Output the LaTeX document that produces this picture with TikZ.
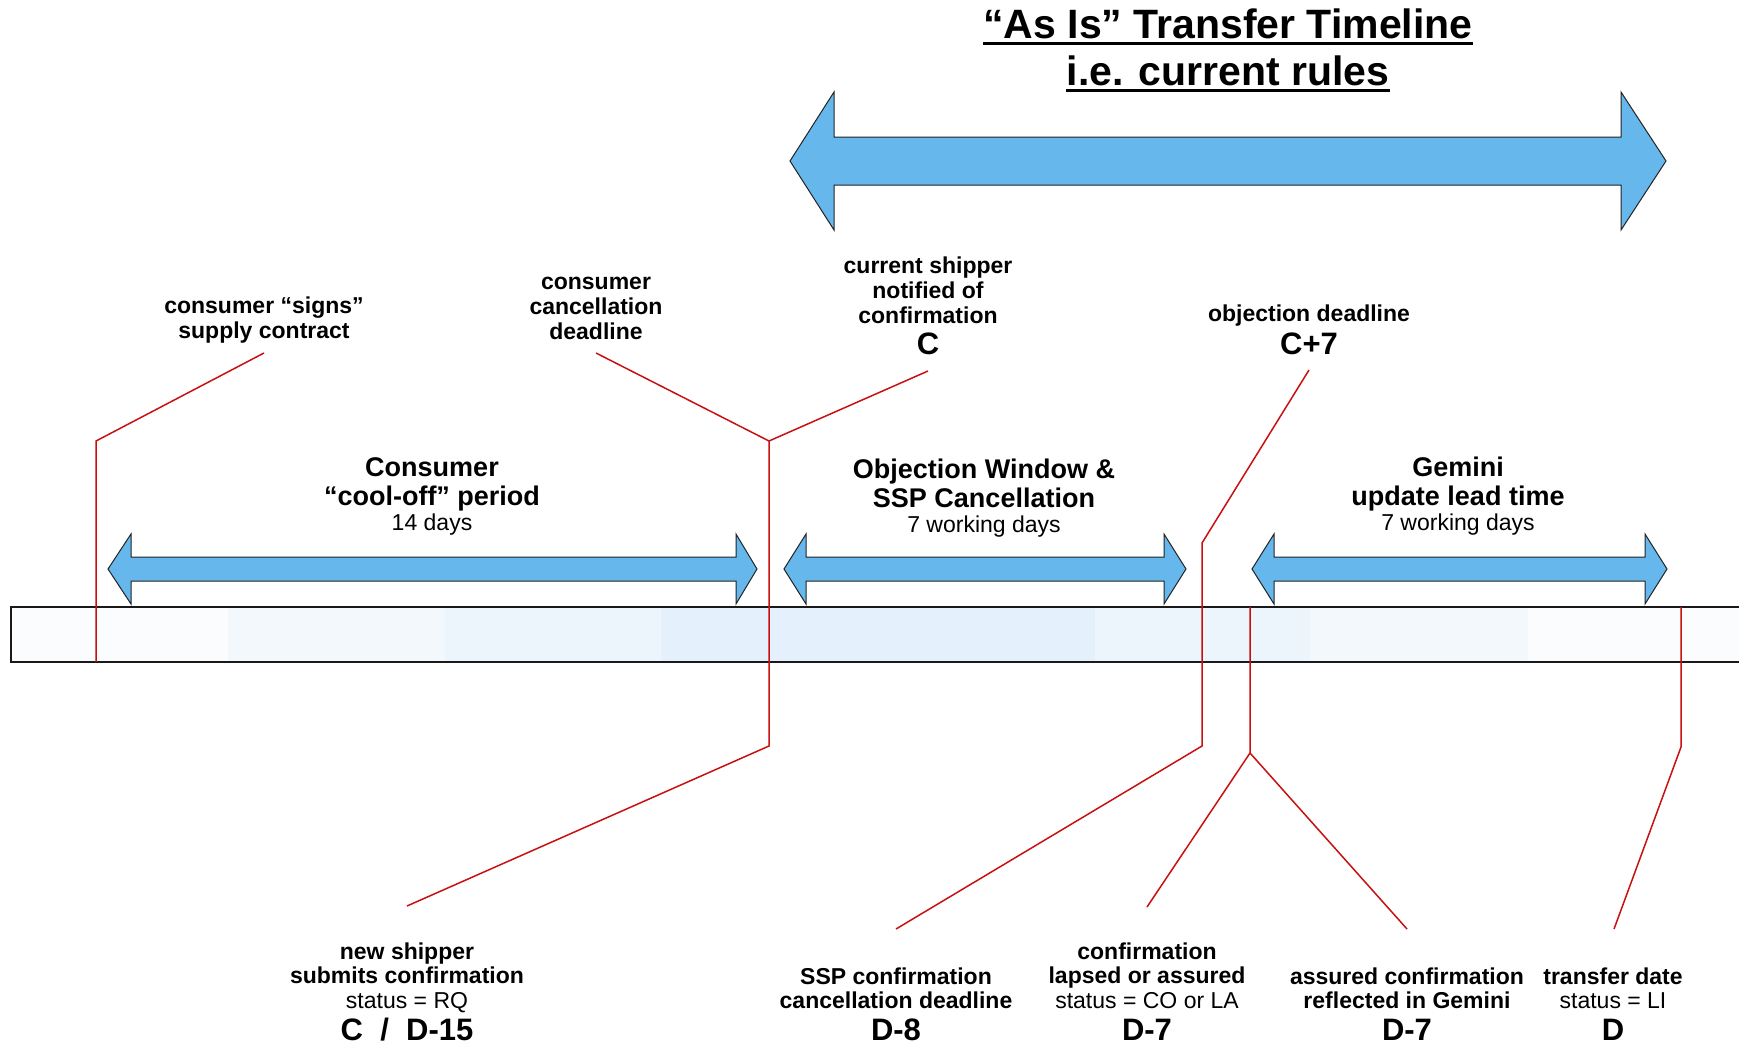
\documentclass[tikz,border=0pt]{standalone}
\usepackage{fontspec}
\setmainfont{Liberation Sans}
\definecolor{arrblue}{RGB}{102,183,236}
\definecolor{arredge}{RGB}{35,35,35}
\definecolor{redl}{RGB}{200,16,16}
\definecolor{bandA}{HTML}{FAFCFE}
\definecolor{bandB}{HTML}{F3F8FD}
\definecolor{bandC}{HTML}{ECF5FC}
\definecolor{bandD}{HTML}{E4F0FB}
\definecolor{barline}{RGB}{25,25,25}
\newcommand{\ml}[1]{\begin{tabular}[t]{@{}c@{}}#1\end{tabular}}
\begin{document}
\begin{tikzpicture}[x=0.5pt,y=-0.5pt,
  toplbl/.style={anchor=base,inner sep=0pt,font=\fontsize{11.5}{12.5}\selectfont\bfseries},
  botlbl/.style={anchor=base,inner sep=0pt,font=\fontsize{11.5}{12.3}\selectfont\bfseries},
  headlbl/.style={anchor=base,inner sep=0pt,font=\fontsize{13.5}{14.5}\selectfont\bfseries},
  sublbl/.style={anchor=base,inner sep=0pt,font=\fontsize{11.5}{12}\selectfont},
  codelbl/.style={anchor=base,inner sep=0pt,font=\fontsize{15.5}{16}\selectfont\bfseries},
  titlelbl/.style={anchor=base,inner sep=0pt,font=\fontsize{20.5}{22}\selectfont\bfseries},
  dblarrow/.style={fill=arrblue,draw=arredge,line width=0.5pt,line join=miter},
  conn/.style={draw=redl,line width=0.75pt}]
\useasboundingbox (0,0) rectangle (1739,1044);
\clip (0,0) rectangle (1739,1044);

% title
\node[titlelbl] (title1) at (1228,38) {“As Is” Transfer Timeline};
\node[titlelbl] (title2) at (1228,85) {i.e. current rules};
\draw[line width=1.5pt] ([yshift=-2.5pt]title1.south west) -- ([yshift=-2.5pt]title1.south east);
\draw[line width=1.5pt] ([yshift=-2.5pt]title2.south west) -- ([yshift=-2.5pt]title2.south east);

% big double arrow
\draw[dblarrow] (790,161) -- (834,92) -- (834,137) -- (1621,137) -- (1621,92) -- (1666,161)
  -- (1621,230) -- (1621,185) -- (834,185) -- (834,230) -- cycle;

% small double arrows
\draw[dblarrow] (108,569) -- (131,534) -- (131,557) -- (736,557) -- (736,534) -- (757,569)
  -- (736,604) -- (736,581) -- (131,581) -- (131,604) -- cycle;
\draw[dblarrow] (784,569) -- (806,534) -- (806,557) -- (1164,557) -- (1164,534) -- (1186,569)
  -- (1164,604) -- (1164,581) -- (806,581) -- (806,604) -- cycle;
\draw[dblarrow] (1252,569) -- (1274,534) -- (1274,557) -- (1645,557) -- (1645,534) -- (1667,569)
  -- (1645,604) -- (1645,581) -- (1274,581) -- (1274,604) -- cycle;

% timeline bar
\foreach \xa/\cc in {11/bandA,228/bandB,445/bandC,661/bandD,877/bandD,1095/bandC,1310/bandB,1528/bandA}
  \fill[\cc] (\xa,607) rectangle ++(218,55);
\draw[barline,line width=1pt] (1760,607) -- (11,607) -- (11,662) -- (1760,662);

% upper labels
\node[toplbl] (signs) at (264,313) {\ml{consumer “signs”\\supply contract}};
\node[toplbl] (cancel) at (596,289) {\ml{consumer\\cancellation\\deadline}};
\node[toplbl] (notified) at (928,273) {\ml{current shipper\\notified of\\confirmation}};
\node[codelbl] (codeC) at (928,354) {C};
\node[toplbl] (objection) at (1309,321) {objection deadline};
\node[codelbl] (codeC7) at (1309,354) {C+7};

% period labels
\node[headlbl] (consumer) at (432,476) {\ml{Consumer\\“cool-off” period}};
\node[sublbl] (days14) at (432,530) {14 days};
\node[headlbl] (objwin) at (984,478) {\ml{Objection Window \&\\SSP Cancellation}};
\node[sublbl] (days7a) at (984,532) {7 working days};
\node[headlbl] (gemini) at (1458,476) {\ml{Gemini\\update lead time}};
\node[sublbl] (days7b) at (1458,530) {7 working days};

% lower labels
\node[botlbl] (newship) at (407,959) {\ml{new shipper\\submits confirmation\\\mdseries status = RQ}};
\node[codelbl] (codeD15) at (407,1040) {C\ \ /\ \ D-15};
\node[botlbl] (sspcanc) at (896,984) {\ml{SSP confirmation\\cancellation deadline}};
\node[codelbl] (codeD8) at (896,1040) {D-8};
\node[botlbl] (lapsed) at (1147,959) {\ml{confirmation\\lapsed or assured\\\mdseries status = CO or LA}};
\node[codelbl] (codeD7a) at (1147,1040) {D-7};
\node[botlbl] (assured) at (1407,984) {\ml{assured confirmation\\reflected in Gemini}};
\node[codelbl] (codeD7b) at (1407,1040) {D-7};
\node[botlbl] (transfer) at (1613,984) {\ml{transfer date\\\mdseries status = LI}};
\node[codelbl] (codeD) at (1613,1040) {D};

% connector points
\coordinate (signsTop) at (264,353);
\coordinate (signsBend) at (96,441);
\coordinate (signsBar) at (96,662);
\coordinate (cancelTop) at (596,353);
\coordinate (cTop) at (928,371);
\coordinate (cBend) at (769,441);
\coordinate (cLow) at (769,746);
\coordinate (newshipTop) at (407,906);
\coordinate (c7Top) at (1309,370);
\coordinate (c7Bend) at (1202,543);
\coordinate (c7Low) at (1202,746);
\coordinate (sspTop) at (896,929);
\coordinate (d7Bar) at (1250,607);
\coordinate (d7Low) at (1250,753);
\coordinate (lapsedTop) at (1147,907);
\coordinate (assuredTop) at (1407,929);
\coordinate (dBar) at (1681,607);
\coordinate (dLow) at (1681,747);
\coordinate (transferTop) at (1614,929);

% red connectors
\draw[conn] (signsTop) -- (signsBend) -- (signsBar);
\draw[conn] (cancelTop) -- (cBend);
\draw[conn] (cTop) -- (cBend) -- (cLow) -- (newshipTop);
\draw[conn] (c7Top) -- (c7Bend) -- (c7Low) -- (sspTop);
\draw[conn] (d7Bar) -- (d7Low) -- (lapsedTop);
\draw[conn] (d7Low) -- (assuredTop);
\draw[conn] (dBar) -- (dLow) -- (transferTop);
\end{tikzpicture}
\end{document}
